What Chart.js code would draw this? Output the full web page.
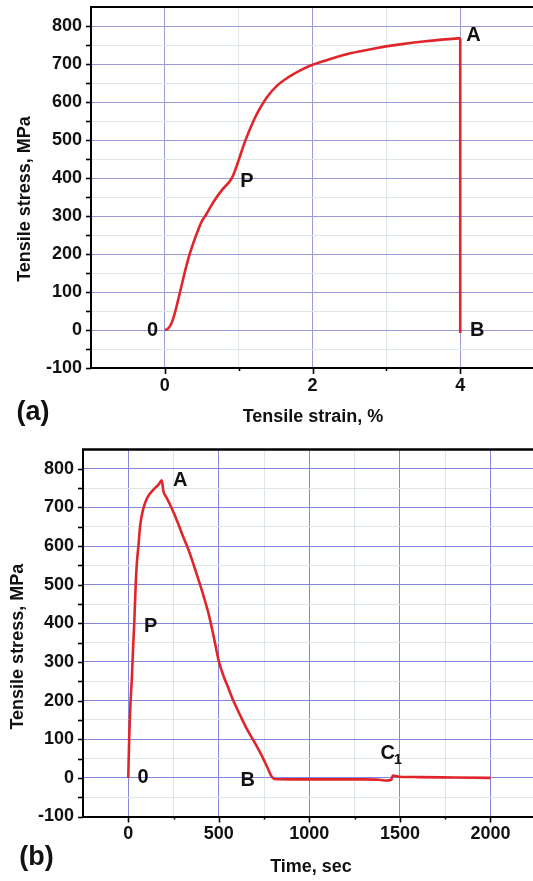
<!DOCTYPE html>
<html><head><meta charset="utf-8">
<script src="https://cdn.jsdelivr.net/npm/chart.js@4"></script>
<style>
html,body{margin:0;padding:0;background:#fff;overflow:hidden;width:533px;height:881px}
.wrap{position:absolute;left:0;width:533px;overflow:hidden;background:#fff}
#wrapA{top:0;height:440px}
#wrapB{top:440px;height:441px}
canvas{display:block}
</style></head><body>
<div class="wrap" id="wrapA"><canvas id="ca"></canvas></div>
<div class="wrap" id="wrapB"><canvas id="cb"></canvas></div>
<script>
// ---- Data (a): stress vs strain ----
const strainA = [0, 0.04, 0.09, 0.134, 0.18, 0.25, 0.32, 0.41, 0.50, 0.56, 0.665, 0.78, 0.896, 0.94, 1.01, 1.08, 1.17, 1.27, 1.38, 1.52, 1.68, 1.84, 2.0, 2.24, 2.51, 2.84, 3.16, 3.53, 4.0, 4.0];
const stressA = [0, 3, 18, 44, 79, 136, 189, 242, 286, 304, 339, 370, 396, 414, 453, 493, 537, 577, 612, 643, 666, 684, 698, 713, 728, 741, 751, 760, 768, -8];

// ---- Data (b): stress vs time ----
const timeB = [0, 5, 12, 20, 26, 33, 41, 48, 56, 65, 75, 85, 105, 139, 167, 185, 194, 210, 231, 255, 278, 305, 333, 360, 389, 415, 444, 472, 500, 525, 550, 580, 620, 660, 700, 740, 770, 790, 805, 900, 1000, 1100, 1200, 1300, 1387, 1424, 1452, 1461, 1498, 1600, 1800, 2000];
const stressB = [0, 100, 190, 260, 330, 400, 500, 560, 600, 650, 680, 700, 725, 746, 759, 770, 742, 727, 707, 682, 655, 622, 590, 553, 511, 472, 424, 365, 302, 265, 236, 200, 160, 122, 90, 55, 25, 5, -3, -4, -4, -4, -4, -4, -5, -7, -5, 6, 3, 2, 1, 0];

// ---- Tick values ----
const stressMajor = [-100, 0, 100, 200, 300, 400, 500, 600, 700, 800];
const stressMinor = [-50, 50, 150, 250, 350, 450, 550, 650, 750];
const strainMajor = [0, 2, 4];
const strainMinor = [1, 3, 5];
const timeMajor = [0, 500, 1000, 1500, 2000];
const timeMinor = [250, 750, 1250, 1750, 2250];

// ---- Point labels (text + data anchor) ----
const notesA = [
  {text: '0', x: -0.165, y: 0},
  {text: 'P', x: 1.11, y: 390},
  {text: 'A', x: 4.18, y: 776},
  {text: 'B', x: 4.23, y: 0}
];
const notesB = [
  {text: '0', x: 81, y: 0},
  {text: 'P', x: 123, y: 391},
  {text: 'A', x: 287, y: 771},
  {text: 'B', x: 660, y: -6},
  {text: 'C', sub: '1', x: 1433, y: 63}
];

const FONT = "'Liberation Sans', Arial, Helvetica, sans-serif";
const RED = '#e0262b';

const decor = {
  id: 'decor',
  afterDraw(chart, args, o) {
    const ctx = chart.ctx, a = chart.chartArea, xs = chart.scales.x, ys = chart.scales.y;
    ctx.save();
    ctx.strokeStyle = '#000';
    ctx.lineWidth = o.topWidth;
    ctx.beginPath(); ctx.moveTo(a.left - 1, a.top); ctx.lineTo(a.right, a.top); ctx.stroke();
    ctx.lineWidth = 1.6;
    ys.ticks.forEach(t => {
      const y = Math.round(ys.getPixelForValue(t.value)) + 0.5;
      ctx.beginPath(); ctx.moveTo(a.left - 5, y); ctx.lineTo(a.left, y); ctx.stroke();
    });
    xs.ticks.forEach(t => {
      const x = Math.round(xs.getPixelForValue(t.value)) + 0.5;
      const len = o.xMajor.includes(t.value) ? 6 : 3;
      ctx.beginPath(); ctx.moveTo(x, a.bottom); ctx.lineTo(x, a.bottom + len); ctx.stroke();
    });
    ctx.fillStyle = '#111';
    ctx.textAlign = 'center';
    ctx.textBaseline = 'middle';
    o.notes.forEach(n => {
      const px = xs.getPixelForValue(n.x), py = ys.getPixelForValue(n.y);
      ctx.font = 'bold 20px ' + FONT;
      ctx.fillText(n.text, px, py);
      if (n.sub) {
        const w = ctx.measureText(n.text).width;
        ctx.font = 'bold 14px ' + FONT;
        ctx.textAlign = 'left';
        ctx.fillText(n.sub, px + w / 2 - 1, py + 7);
        ctx.textAlign = 'center';
      }
    });
    ctx.font = 'bold 18px ' + FONT;
    ctx.fillText(o.xTitle, o.xTitlePos[0], o.xTitlePos[1]);
    ctx.save();
    ctx.translate(o.yTitlePos[0], o.yTitlePos[1]);
    ctx.rotate(-Math.PI / 2);
    ctx.fillText(o.yTitle, 0, 0);
    ctx.restore();
    ctx.font = 'bold 27px ' + FONT;
    ctx.fillText(o.panel, o.panelPos[0], o.panelPos[1]);
    ctx.restore();
  }
};

// split a series where x stops increasing (vertical drop is drawn straight)
function splitSeries(xs, ys) {
  const pts = xs.map((v, i) => ({x: v, y: ys[i]}));
  let k = pts.length;
  for (let i = 1; i < pts.length; i++) { if (pts[i].x <= pts[i - 1].x) { k = i; break; } }
  return [pts.slice(0, k), k < pts.length ? pts.slice(k - 1) : []];
}

function makeChart(id, cfg) {
  const cv = document.getElementById(id);
  cv.width = cfg.w; cv.height = cfg.h;
  cv.style.width = cfg.w + 'px'; cv.style.height = cfg.h + 'px';
  const xAll = cfg.xMajor.concat(cfg.xMinor).sort((p, q) => p - q);
  const yAll = stressMajor.concat(stressMinor).sort((p, q) => p - q);
  const tickFont = {family: FONT, size: 18, weight: 'bold'};
  const parts = splitSeries(cfg.xs, cfg.ys);
  const ds = parts.filter(p => p.length).map(p => ({
    data: p,
    borderColor: RED,
    borderWidth: 2.6,
    pointRadius: 0,
    cubicInterpolationMode: 'monotone',
    fill: false
  }));
  return new Chart(cv, {
    type: 'line',
    data: {datasets: ds},
    options: {
      responsive: false,
      animation: false,
      devicePixelRatio: 1,
      layout: {padding: {top: cfg.top, left: 0, right: 0, bottom: 0}},
      plugins: {
        legend: {display: false},
        tooltip: {enabled: false},
        decor: {
          topWidth: cfg.topWidth,
          xMajor: cfg.xMajor,
          notes: cfg.notes,
          xTitle: cfg.xTitle, xTitlePos: cfg.xTitlePos,
          yTitle: 'Tensile stress, MPa', yTitlePos: cfg.yTitlePos,
          panel: cfg.panel, panelPos: cfg.panelPos
        }
      },
      scales: {
        x: {
          type: 'linear',
          min: cfg.xMin, max: cfg.xMax,
          afterBuildTicks: s => { s.ticks = xAll.map(v => ({value: v})); },
          afterFit: s => { s.height = cfg.h - cfg.bottom; s.paddingLeft = 0; s.paddingRight = 0; },
          grid: {
            color: c => (c.tick && cfg.xMajor.includes(c.tick.value)) ? cfg.majorColor : cfg.minorColor,
            lineWidth: 1,
            drawTicks: false
          },
          border: {display: true, color: '#000', width: 2},
          ticks: {
            autoSkip: false, maxRotation: 0, padding: 7,
            color: '#111', font: tickFont,
            callback: v => cfg.xMajor.includes(v) ? String(v) : ''
          }
        },
        y: {
          type: 'linear',
          min: -100, max: 850,
          afterBuildTicks: s => { s.ticks = yAll.map(v => ({value: v})); },
          afterFit: s => { s.width = cfg.left; s.paddingTop = 0; s.paddingBottom = 0; },
          grid: {
            color: c => (c.tick && stressMajor.includes(c.tick.value)) ? cfg.majorColor : cfg.minorColor,
            lineWidth: 1,
            drawTicks: false
          },
          border: {display: true, color: '#000', width: 2},
          ticks: {
            autoSkip: false, padding: 9,
            color: '#111', font: tickFont,
            callback: v => stressMajor.includes(v) ? String(v) : ''
          }
        }
      }
    },
    plugins: [decor]
  });
}

makeChart('ca', {
  w: 571, h: 440, left: 91, top: 7, bottom: 368,
  xMin: -1, xMax: 5.5, xMajor: strainMajor, xMinor: strainMinor,
  xs: strainA, ys: stressA, notes: notesA,
  majorColor: '#9a9ad6', minorColor: '#dfe9e1', topWidth: 2,
  xTitle: 'Tensile strain, %', xTitlePos: [313, 417],
  yTitlePos: [25.5, 199],
  panel: '(a)', panelPos: [33, 413]
});

makeChart('cb', {
  w: 581, h: 441, left: 83, top: 9.5, bottom: 376.5,
  xMin: -250, xMax: 2500, xMajor: timeMajor, xMinor: timeMinor,
  xs: timeB, ys: stressB, notes: notesB,
  majorColor: '#8585de', minorColor: '#dde8e0', topWidth: 2.5,
  xTitle: 'Time, sec', xTitlePos: [311, 427],
  yTitlePos: [17.7, 206.7],
  panel: '(b)', panelPos: [36.6, 418]
});
</script>
</body></html>
